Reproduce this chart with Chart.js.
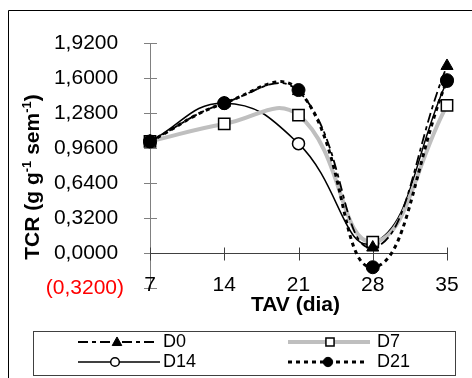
<!DOCTYPE html>
<html>
<head>
<meta charset="utf-8">
<script src="https://cdn.jsdelivr.net/npm/chart.js@4"></script>
<style>
  html, body { margin: 0; padding: 0; background: #fff; }
</style>
</head>
<body>
<canvas id="chart" width="472" height="378"></canvas>
<script>
// dados
const days = ['7', '14', '21', '28', '35'];
const d0 = [1.02, 1.37, 1.48, 0.05, 1.71];
const d7 = [1.02, 1.18, 1.26, 0.10, 1.35];
const d14 = [1.02, 1.37, 1.00, 0.09, 1.57];
const d21 = [1.02, 1.37, 1.49, -0.13, 1.58];
const yTicks = [-0.32, 0, 0.32, 0.64, 0.96, 1.28, 1.6, 1.92];

const FONT = '"Liberation Sans", Arial, sans-serif';

function fmt(v) {
    const s = Math.abs(v).toFixed(4).replace('.', ',');
    return v < 0 ? '(' + s + ')' : s + ' ';
}

function marker(ctx, style, x, y, r, fill, stroke, bw) {
    ctx.save();
    ctx.setLineDash([]);
    ctx.beginPath();
    if (style === 'triangle') {
        ctx.moveTo(x, y - r);
        ctx.lineTo(x + r * 0.95, y + r * 0.7);
        ctx.lineTo(x - r * 0.95, y + r * 0.7);
        ctx.closePath();
    } else if (style === 'rect') {
        const s = r * Math.SQRT1_2;
        ctx.rect(x - s, y - s, 2 * s, 2 * s);
    } else {
        ctx.arc(x, y, r, 0, Math.PI * 2);
    }
    ctx.fillStyle = fill;
    ctx.fill();
    ctx.lineWidth = bw;
    ctx.strokeStyle = stroke;
    ctx.stroke();
    ctx.restore();
}

const decor = {
    id: 'decor',
    beforeDatasetsDraw(chart) {
        const { ctx, chartArea: a, scales: { x, y } } = chart;
        ctx.save();
        ctx.lineWidth = 1;
        // eixo y
        ctx.strokeStyle = '#808080';
        ctx.beginPath();
        ctx.moveTo(a.left + 0.5, a.top);
        ctx.lineTo(a.left + 0.5, a.bottom);
        yTicks.forEach(v => {
            const py = Math.round(y.getPixelForValue(v)) + 0.5;
            ctx.moveTo(a.left - 6, py);
            ctx.lineTo(a.left + 7, py);
        });
        ctx.stroke();
        // eixo x em zero
        ctx.strokeStyle = '#404040';
        const y0 = Math.round(y.getPixelForValue(0)) + 0.5;
        ctx.beginPath();
        ctx.moveTo(a.left, y0);
        ctx.lineTo(a.right, y0);
        days.forEach((d, i) => {
            const px = Math.round(x.getPixelForValue(i)) + 0.5;
            ctx.moveTo(px, y0 - 6);
            ctx.lineTo(px, y0 + 7);
        });
        ctx.stroke();
        // rótulos do eixo x, na base da área do gráfico
        ctx.fillStyle = '#000';
        ctx.font = '21px ' + FONT;
        ctx.textAlign = 'center';
        ctx.textBaseline = 'middle';
        days.forEach((d, i) => {
            ctx.fillText(x.getLabelForValue(i), x.getPixelForValue(i), a.bottom - 3);
        });
        ctx.restore();
    },
    afterDraw(chart) {
        const { ctx, chartArea: a } = chart;
        ctx.save();
        ctx.fillStyle = '#000';
        // título do eixo x
        ctx.font = 'bold 21px ' + FONT;
        ctx.textAlign = 'center';
        ctx.textBaseline = 'middle';
        ctx.fillText('TAV (dia)', (a.left + a.right) / 2 - 3, 305);

        // título do eixo y com sobrescritos
        const parts = [['TCR (g g', false], ['-1', true], [' sem', false], ['-1', true], [')', false]];
        const big = 'bold 21px ' + FONT, small = 'bold 13px ' + FONT;
        let total = 0;
        parts.forEach(p => { ctx.font = p[1] ? small : big; total += ctx.measureText(p[0]).width; });
        ctx.translate(33, 177);
        ctx.rotate(-Math.PI / 2);
        ctx.textAlign = 'left';
        ctx.textBaseline = 'middle';
        let cx = -total / 2;
        parts.forEach(p => {
            ctx.font = p[1] ? small : big;
            ctx.fillText(p[0], cx, p[1] ? -6 : 0);
            cx += ctx.measureText(p[0]).width;
        });
        ctx.setTransform(1, 0, 0, 1, 0, 0);

        // moldura externa
        ctx.strokeStyle = '#000';
        ctx.lineWidth = 1;
        ctx.beginPath();
        ctx.moveTo(8.5, 378);
        ctx.lineTo(8.5, 10.5);
        ctx.lineTo(472, 10.5);
        ctx.stroke();

        // legenda
        ctx.strokeStyle = '#404040';
        ctx.strokeRect(33.5, 331.5, 422, 44);
        const slots = [
            { x1: 78, x2: 158, mx: 117, tx: 163, y: 342 },
            { x1: 288, x2: 370, mx: 330, tx: 377, y: 342 },
            { x1: 78, x2: 160, mx: 115, tx: 163, y: 362 },
            { x1: 288, x2: 364, mx: 328, tx: 377, y: 362 }
        ];
        chart.data.datasets.forEach((ds, i) => {
            const s = slots[i];
            ctx.save();
            ctx.strokeStyle = ds.borderColor;
            ctx.lineWidth = ds.borderWidth;
            ctx.setLineDash(ds.borderDash || []);
            ctx.beginPath();
            ctx.moveTo(s.x1, s.y);
            ctx.lineTo(s.x2, s.y);
            ctx.stroke();
            ctx.restore();
            marker(ctx, ds.pointStyle, s.mx, s.y, ds.pointRadius * 0.72,
                ds.pointBackgroundColor, ds.pointBorderColor, ds.pointBorderWidth);
            ctx.font = '18px ' + FONT;
            ctx.fillStyle = '#000';
            ctx.textAlign = 'left';
            ctx.textBaseline = 'middle';
            ctx.fillText(ds.label, s.tx, s.y);
        });
        ctx.restore();
    }
};

new Chart(document.getElementById('chart'), {
    type: 'line',
    data: {
        labels: days,
        datasets: [{
            label: 'D0',
            data: d0,
            borderColor: '#000',
            borderWidth: 1.8,
            borderDash: [10, 4, 4, 4],
            pointStyle: 'triangle',
            pointRadius: 7,
            pointBackgroundColor: '#000',
            pointBorderColor: '#000',
            pointBorderWidth: 1,
            order: 0
        }, {
            label: 'D7',
            data: d7,
            borderColor: '#bfbfbf',
            borderWidth: 4,
            pointStyle: 'rect',
            pointRadius: 8,
            pointBackgroundColor: '#fff',
            pointBorderColor: '#000',
            pointBorderWidth: 1.5,
            order: 2
        }, {
            label: 'D14',
            data: d14,
            borderColor: '#000',
            borderWidth: 1.5,
            pointStyle: 'circle',
            pointRadius: 6,
            pointBackgroundColor: '#fff',
            pointBorderColor: '#000',
            pointBorderWidth: 1.5,
            order: 3
        }, {
            label: 'D21',
            data: d21,
            borderColor: '#000',
            borderWidth: 3,
            borderDash: [4, 4],
            pointStyle: 'circle',
            pointRadius: 6.5,
            pointBackgroundColor: '#000',
            pointBorderColor: '#000',
            pointBorderWidth: 1,
            order: 1
        }]
    },
    options: {
        responsive: false,
        animation: false,
        devicePixelRatio: 1,
        layout: { padding: { top: 43, right: 25, left: 0, bottom: 0 } },
        elements: { line: { tension: 0.45 } },
        datasets: { line: { clip: false } },
        scales: {
            x: {
                type: 'category',
                offset: false,
                grid: { display: false },
                border: { display: false },
                ticks: { display: false },
                afterFit(s) { s.height = 90; }
            },
            y: {
                min: -0.32,
                max: 1.92,
                grid: { display: false },
                border: { display: false },
                afterBuildTicks(s) { s.ticks = yTicks.map(v => ({ value: v })); },
                afterFit(s) { s.width = 150; },
                ticks: {
                    padding: 18,
                    callback: v => fmt(v),
                    color: c => (c.tick && c.tick.value < 0) ? '#ff0000' : '#000',
                    font: { family: FONT, size: 21 }
                }
            }
        },
        plugins: {
            legend: { display: false },
            tooltip: { enabled: false }
        }
    },
    plugins: [decor]
});
</script>
</body>
</html>
